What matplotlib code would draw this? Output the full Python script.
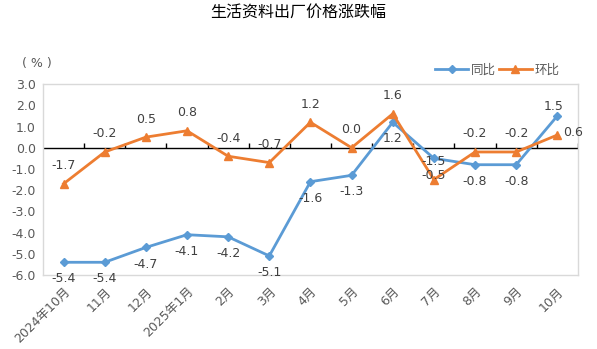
import numpy as np
import matplotlib
matplotlib.use("Agg")
import matplotlib.pyplot as plt

plt.rcParams["font.family"] = ["DejaVu Sans", "Noto Sans CJK SC"]
plt.rcParams["axes.unicode_minus"] = False

months = ["2024年10月", "11月", "12月", "2025年1月", "2月", "3月", "4月",
          "5月", "6月", "7月", "8月", "9月", "10月"]
yoy = [-5.4, -5.4, -4.7, -4.1, -4.2, -5.1, -1.6, -1.3, 1.2, -0.5, -0.8, -0.8, 1.5]
mom = [-1.7, -0.2, 0.5, 0.8, -0.4, -0.7, 1.2, 0.0, 1.6, -1.5, -0.2, -0.2, 0.6]

blue = "#5B9BD5"
orange = "#ED7D31"
grey_text = "#595959"

fig = plt.figure(figsize=(5.97, 3.49), dpi=100)
ax = fig.add_axes([0.072, 0.212, 0.896, 0.547])

x = np.arange(len(months))
ax.plot(x, yoy, color=blue, linewidth=2.0, marker="D", markersize=4, label="同比")
ax.plot(x, mom, color=orange, linewidth=2.0, marker="^", markersize=6, label="环比")

# data labels: yoy below, mom above (last points differ)
for i, v in enumerate(yoy):
    if i == len(yoy) - 1:
        off = (-3, 7)
    else:
        off = (0, -12)
    ax.annotate(f"{v:.1f}", (x[i], v), xytext=off, textcoords="offset points",
                ha="center", va="center", fontsize=9, color="#404040")
for i, v in enumerate(mom):
    if i == len(mom) - 1:
        ax.annotate(f"{v:.1f}", (x[i], v), xytext=(4, 2), textcoords="offset points",
                    ha="left", va="center", fontsize=9, color="#404040")
    else:
        ax.annotate(f"{v:.1f}", (x[i], v), xytext=(0, 13), textcoords="offset points",
                    ha="center", va="center", fontsize=9, color="#404040")

ax.set_xlim(-0.5, len(months) - 0.5)
ax.set_ylim(-6, 3)
yt = np.arange(-6, 3.1, 1.0)
ax.set_yticks(yt)
ax.set_yticklabels([f"{t:.1f}" for t in yt])
ax.set_xticks(x)
ax.set_xticklabels(months, rotation=45, ha="right", rotation_mode="anchor")
ax.tick_params(axis="both", length=0, labelsize=9, labelcolor=grey_text)
ax.tick_params(axis="x", pad=7)
ax.tick_params(axis="y", pad=5)

for s in ax.spines.values():
    s.set_color("#D9D9D9")
    s.set_linewidth(1.0)

# zero axis with category boundary ticks
ax.axhline(0, color="black", linewidth=1.0, zorder=1)
bounds = np.arange(len(months) + 1) - 0.5
ax.vlines(bounds[1:], 0, 0.24, color="black", linewidth=1.0, zorder=1)

fig.text(0.5, 0.965, "生活资料出厂价格涨跌幅", ha="center", va="center",
         fontsize=11.5, color="black", family=["Noto Sans CJK SC", "DejaVu Sans"])
fig.text(0.037, 0.818, "( % )", ha="left", va="center", fontsize=9, color=grey_text)

fig.legend(loc="center right", bbox_to_anchor=(0.945, 0.80), ncol=2, frameon=False,
           fontsize=9, labelcolor=grey_text, handlelength=2.6, columnspacing=0.3,
           handletextpad=0.2, borderaxespad=0)

fig.savefig("out.png", dpi=100)
